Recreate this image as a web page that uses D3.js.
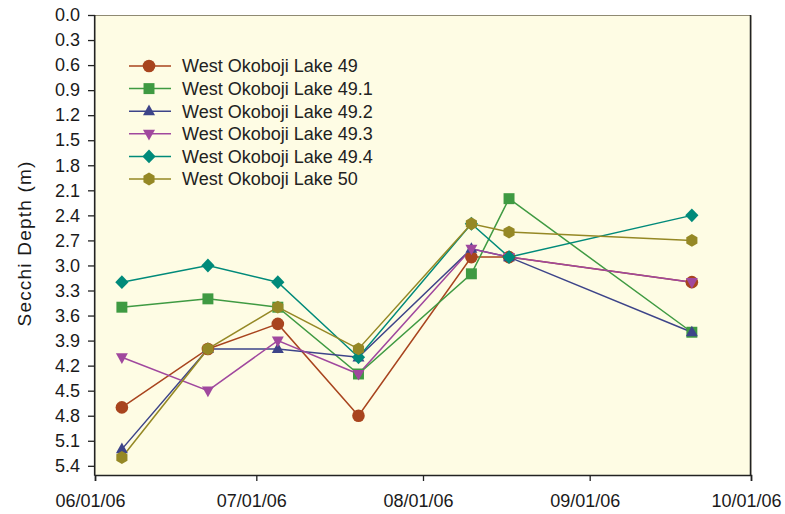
<!DOCTYPE html>
<meta charset="utf-8">
<style>
body { margin: 0; background: #fff; font-family: 'Liberation Sans', Arial, sans-serif; }
.tick text { font-size: 18px; fill: #1a1a1a; }
</style>
<body>
<svg id="chart" width="785" height="514"></svg>
<script src="https://cdnjs.cloudflare.com/ajax/libs/d3/7.8.5/d3.min.js"></script>
<script>
// sampling dates
var dates = ["2006-06-06", "2006-06-22", "2006-07-05", "2006-07-20", "2006-08-10", "2006-08-17", "2006-09-20"];

// secchi depth (m) per site
var lake49   = [4.7, 4.0, 3.7, 4.8, 2.9, 2.9, 3.2];
var lake49_1 = [3.5, 3.4, 3.5, 4.3, 3.1, 2.2, 3.8];
var lake49_2 = [5.2, 4.0, 4.0, 4.1, 2.8, 2.9, 3.8];
var lake49_3 = [4.1, 4.5, 3.9, 4.3, 2.8, 2.9, 3.2];
var lake49_4 = [3.2, 3.0, 3.2, 4.1, 2.5, 2.9, 2.4];
var lake50   = [5.3, 4.0, 3.5, 4.0, 2.5, 2.6, 2.7];

var seriesNames = ["West Okoboji Lake 49", "West Okoboji Lake 49.1", "West Okoboji Lake 49.2",
                   "West Okoboji Lake 49.3", "West Okoboji Lake 49.4", "West Okoboji Lake 50"];
var seriesValues = [lake49, lake49_1, lake49_2, lake49_3, lake49_4, lake50];
var colors = ["#a8441e", "#3f9a42", "#3d4489", "#a0489e", "#008a7a", "#958825"];
var shapes = ["circle", "square", "triUp", "triDown", "diamond", "hexagon"];

var yTicks = [0, 0.3, 0.6, 0.9, 1.2, 1.5, 1.8, 2.1, 2.4, 2.7, 3.0, 3.3, 3.6, 3.9, 4.2, 4.5, 4.8, 5.1, 5.4];
var xTicks = ["2006-06-01", "2006-07-01", "2006-08-01", "2006-09-01", "2006-10-01"];

var parse = d3.timeParse("%Y-%m-%d");

// custom marker shapes, r = rough radius
function markerPath(shape, r) {
  var p = d3.path();
  if (shape === "circle") {
    p.arc(0, 0, r, 0, 2 * Math.PI);
  } else if (shape === "square") {
    var s = r * 0.87;
    p.rect(-s, -s, 2 * s, 2 * s);
  } else if (shape === "triUp") {
    p.moveTo(0, -r * 1.05); p.lineTo(r * 0.95, r * 0.65); p.lineTo(-r * 0.95, r * 0.65); p.closePath();
  } else if (shape === "triDown") {
    p.moveTo(0, r * 1.05); p.lineTo(r * 0.95, -r * 0.65); p.lineTo(-r * 0.95, -r * 0.65); p.closePath();
  } else if (shape === "diamond") {
    p.moveTo(0, -r * 1.1); p.lineTo(r * 1.05, 0); p.lineTo(0, r * 1.1); p.lineTo(-r * 1.05, 0); p.closePath();
  } else if (shape === "hexagon") {
    for (var i = 0; i < 6; i++) {
      var a = Math.PI / 2 + i * Math.PI / 3;
      var px = r * 1.02 * Math.cos(a), py = r * 1.02 * Math.sin(a);
      if (i === 0) p.moveTo(px, py); else p.lineTo(px, py);
    }
    p.closePath();
  }
  return p.toString();
}

var margin = { top: 15, right: 34, bottom: 39, left: 95 };
var width = 785 - margin.left - margin.right,
    height = 514 - margin.top - margin.bottom;

var svg = d3.select("#chart");
var g = svg.append("g").attr("transform", "translate(" + margin.left + "," + margin.top + ")");

var x = d3.scaleTime().domain([parse("2006-06-01"), parse("2006-10-01")]).range([0, width]);
var y = d3.scaleLinear().domain([0, 5.51]).range([0, height]);

// plot background
g.append("rect")
  .attr("width", width).attr("height", height)
  .attr("fill", "#fefce4");

// top and right frame
g.append("path")
  .attr("d", "M0,0.5H" + width + "V" + height)
  .attr("fill", "none").attr("stroke", "#8f8a72").attr("stroke-width", 1);
g.append("path")
  .attr("d", "M" + (width - 0.5) + ",0V" + height)
  .attr("fill", "none").attr("stroke", "#222").attr("stroke-width", 1.5);

// axes
var yAxis = g.append("g")
  .call(d3.axisLeft(y).tickValues(yTicks).tickFormat(d3.format(".1f")).tickSize(7).tickPadding(8));
var xAxis = g.append("g")
  .attr("transform", "translate(0," + height + ")")
  .call(d3.axisBottom(x).tickValues(xTicks.map(parse)).tickFormat(d3.timeFormat("%m/%d/%y")).tickSize(6).tickPadding(13));

[yAxis, xAxis].forEach(function(ax) {
  ax.select(".domain").attr("stroke", "#222").attr("stroke-width", 1.6);
  ax.selectAll(".tick line").attr("stroke", "#222").attr("stroke-width", 1.3);
  ax.selectAll(".tick text").style("font-family", "'Liberation Sans', Arial, sans-serif");
});
yAxis.select(".domain").attr("d", "M-0.3," + (height + 0.8) + "V0");
xAxis.selectAll(".tick text").attr("dx", -5);

// y title
svg.append("text")
  .attr("transform", "translate(31,243.5) rotate(-90)")
  .attr("text-anchor", "middle")
  .style("font-size", "19px")
  .style("letter-spacing", "1.2px")
  .attr("fill", "#1a1a1a")
  .text("Secchi Depth (m)");

// series
var line = d3.line()
  .x(function(d, i) { return x(parse(dates[i])); })
  .y(function(d) { return y(d); });

seriesValues.forEach(function(vals, si) {
  g.append("path")
    .datum(vals)
    .attr("fill", "none")
    .attr("stroke", colors[si])
    .attr("stroke-width", 1.5)
    .attr("d", line);
});

seriesValues.forEach(function(vals, si) {
  g.selectAll(".m" + si)
    .data(vals)
    .enter()
    .append("path")
    .attr("class", "m" + si)
    .attr("transform", function(d, i) { return "translate(" + x(parse(dates[i])) + "," + y(d) + ")"; })
    .attr("d", markerPath(shapes[si], 6.3))
    .attr("fill", colors[si]);
});

// legend
var legend = g.append("g").attr("transform", "translate(34,51)");
seriesNames.forEach(function(name, si) {
  var row = legend.append("g").attr("transform", "translate(0," + (si * 22.6) + ")");
  row.append("line")
    .attr("x1", 0).attr("x2", 42)
    .attr("stroke", colors[si]).attr("stroke-width", 1.5);
  row.append("path")
    .attr("transform", "translate(20,0)")
    .attr("d", markerPath(shapes[si], 6.3))
    .attr("fill", colors[si]);
  row.append("text")
    .attr("x", 53).attr("y", 0).attr("dy", "0.35em")
    .style("font-size", "18px")
    .attr("fill", "#222")
    .text(name);
});
</script>
</body>
